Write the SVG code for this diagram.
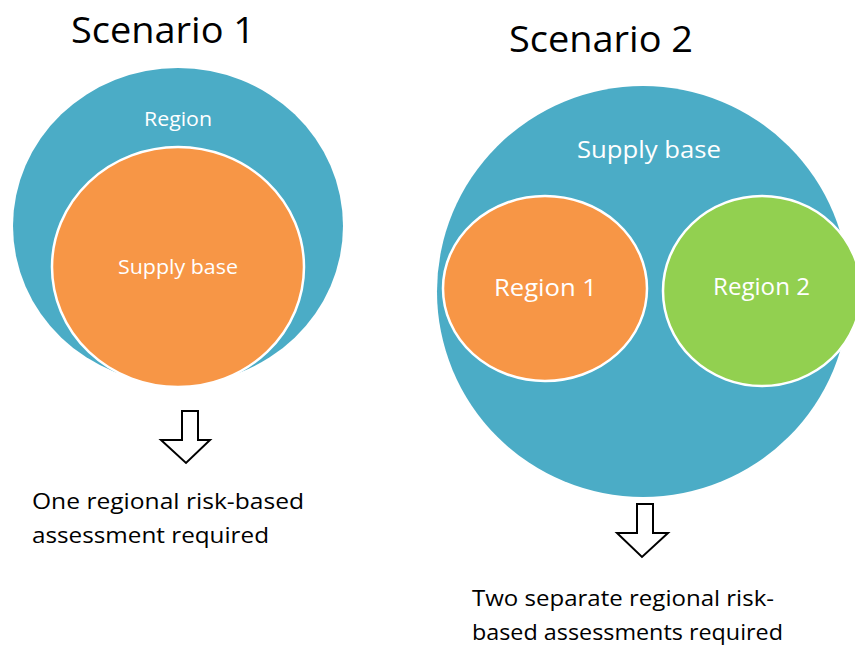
<svg xmlns="http://www.w3.org/2000/svg" width="855" height="648" viewBox="0 0 855 648">
<style>
.title{font-family:"Open Sans","Liberation Sans",sans-serif;font-size:36px;fill:#000}
.lbl{font-family:"Open Sans","Liberation Sans",sans-serif;fill:#fff}
.body{font-family:"Open Sans","Liberation Sans",sans-serif;font-size:21px;fill:#000}
.blue{fill:#4BACC6}
.inner{stroke:#fff;stroke-width:2.5}
.arrow{fill:#fff;stroke:#000;stroke-width:2;stroke-linejoin:miter}
</style>
<rect width="855" height="648" fill="#fff"/>
<g id="scenario1">
  <text class="title" x="71" y="43" textLength="184" lengthAdjust="spacingAndGlyphs">Scenario 1</text>
  <g id="s1-region">
    <ellipse class="blue" cx="178" cy="226" rx="165" ry="158"/>
    <text class="lbl" x="178" y="126" font-size="20" text-anchor="middle" textLength="68" lengthAdjust="spacingAndGlyphs">Region</text>
  </g>
  <g id="s1-supply">
    <ellipse class="inner" fill="#F79646" cx="178" cy="267" rx="126" ry="120"/>
    <text class="lbl" x="178" y="274" font-size="20" text-anchor="middle" textLength="120" lengthAdjust="spacingAndGlyphs">Supply base</text>
  </g>
  <g id="s1-arrow">
    <polygon class="arrow" points="182,411 198,411 198,440 210,440 186,463 161,440 182,440"/>
  </g>
  <text class="body" x="32" y="509" textLength="272" lengthAdjust="spacingAndGlyphs">One regional risk-based</text>
  <text class="body" x="32" y="543" textLength="237" lengthAdjust="spacingAndGlyphs">assessment required</text>
</g>
<g id="scenario2">
  <text class="title" x="509" y="52" textLength="184" lengthAdjust="spacingAndGlyphs">Scenario 2</text>
  <g id="s2-supply">
    <ellipse class="blue" cx="643" cy="291.5" rx="206" ry="205.5"/>
    <text class="lbl" x="649" y="158" font-size="24" text-anchor="middle" textLength="144" lengthAdjust="spacingAndGlyphs">Supply base</text>
  </g>
  <g id="s2-region1">
    <ellipse class="inner" fill="#F79646" cx="545" cy="288.5" rx="102" ry="92.5"/>
    <text class="lbl" x="545.5" y="296" font-size="24" text-anchor="middle" textLength="103" lengthAdjust="spacingAndGlyphs">Region 1</text>
  </g>
  <g id="s2-region2">
    <ellipse class="inner" fill="#92D050" cx="762" cy="291" rx="99" ry="95"/>
    <text class="lbl" x="761.5" y="295" font-size="24" text-anchor="middle" textLength="97" lengthAdjust="spacingAndGlyphs">Region 2</text>
  </g>
  <g id="s2-arrow">
    <polygon class="arrow" points="637,504 653,504 653,533 668,533 642,557 617,533 637,533"/>
  </g>
  <text class="body" x="472" y="606" textLength="302" lengthAdjust="spacingAndGlyphs">Two separate regional risk-</text>
  <text class="body" x="472" y="640" textLength="311" lengthAdjust="spacingAndGlyphs">based assessments required</text>
</g>
</svg>
